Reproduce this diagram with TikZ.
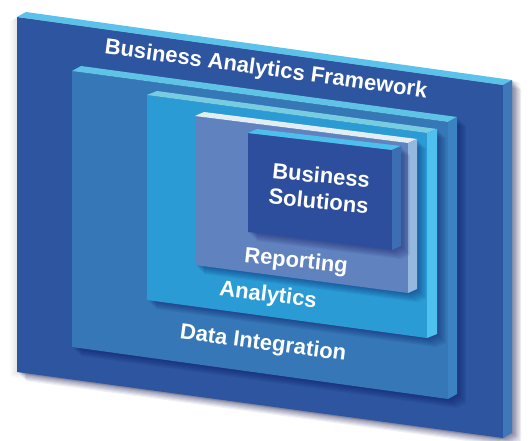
\documentclass[tikz,border=0pt]{standalone}
\usepackage{fontspec}
\setmainfont{Liberation Sans}
\definecolor{outerFront}{HTML}{2D55A0}
\definecolor{outerTop}{HTML}{5CC2E9}
\definecolor{outerSide}{HTML}{3E78B9}
\definecolor{diFront}{HTML}{3577B7}
\definecolor{diTop}{HTML}{5EC3E5}
\definecolor{diSide}{HTML}{3A82C2}
\definecolor{anFront}{HTML}{2B9BD5}
\definecolor{anTop}{HTML}{78CCE0}
\definecolor{anSide}{HTML}{4FC1EE}
\definecolor{repFront}{HTML}{6082BF}
\definecolor{repTop}{HTML}{E2EEF4}
\definecolor{repSide}{HTML}{95B8DF}
\definecolor{bsFront}{HTML}{2C4E9D}
\definecolor{bsTop}{HTML}{4CBFEC}
\definecolor{bsSide}{HTML}{3C6EB3}
\tikzset{
  label text/.style={text=white, font=\fontsize{22}{26}\selectfont\bfseries, inner sep=0pt, align=center},
  shadowlayer/.style={fill=black!70!blue, fill opacity=0.06},
}
\def\dx{9}\def\dy{5}
% #1 x1, #2 x2, #3 yTL, #4 yTR, #5 yBL, #6 yBR, #7 front, #8 top, #9 side
\newcommand\myslab[9]{%
  \foreach \k in {1,...,7}{%
    \fill[shadowlayer, shift={(\k*1.3,\k*1.3)}] (#1,#3) -- (#1+\dx,#3-\dy) -- (#2+\dx,#4-\dy) -- (#2+\dx,#6-\dy) -- (#2,#6) -- (#1,#5) -- cycle;
  }
  \fill[#7] (#1,#3) -- (#2,#4) -- (#2,#6) -- (#1,#5) -- cycle;
  \fill[#8] (#1,#3) -- (#1+\dx,#3-\dy) -- (#2+\dx,#4-\dy) -- (#2,#4) -- cycle;
  \fill[#9] (#2,#4) -- (#2+\dx,#4-\dy) -- (#2+\dx,#6-\dy) -- (#2,#6) -- cycle;
}
\begin{document}
\begin{tikzpicture}[x=1pt,y=-1pt]
\useasboundingbox (0,0) rectangle (531,441);
% soft glow around the outer slab
\foreach \k in {1,...,8}{
  \fill[black, fill opacity=0.018, shift={(\k*1.1,\k*0.4)}] (17,17) -- (26,12) -- (512,80) -- (512,433) -- (503,438) -- (17,372) -- cycle;
  \fill[black, fill opacity=0.012, shift={(-\k*0.9,\k*0.6)}] (17,17) -- (26,12) -- (512,80) -- (512,433) -- (503,438) -- (17,372) -- cycle;
}
\def\dx{9}\def\dy{5}
\myslab{17}{503}{17}{85}{372}{438}{outerFront}{outerTop}{outerSide}
\myslab{72}{448}{71}{122}{347}{399}{diFront}{diTop}{diSide}
\def\dx{10}\def\dy{4}
\myslab{147}{427}{95}{133}{300}{338}{anFront}{anTop}{anSide}
\def\dx{9}\def\dy{4}
\myslab{195}{408}{116}{143}{265}{293}{repFront}{repTop}{repSide}
\myslab{248}{392}{133}{150}{232}{250}{bsFront}{bsTop}{bsSide}
% labels
\node[label text, rotate=-7.8] (framework) at (266,70) {Business Analytics Framework};
\node[label text, rotate=-7.5] (dataint) at (263,344) {Data Integration};
\node[label text, rotate=-7] (analytics) at (268,296) {Analytics};
\node[label text, rotate=-6] (reporting) at (296,262) {Reporting};
\node[label text, rotate=-5.5] (bizsol) at (320,188) {Business\\Solutions};
\end{tikzpicture}
\end{document}
